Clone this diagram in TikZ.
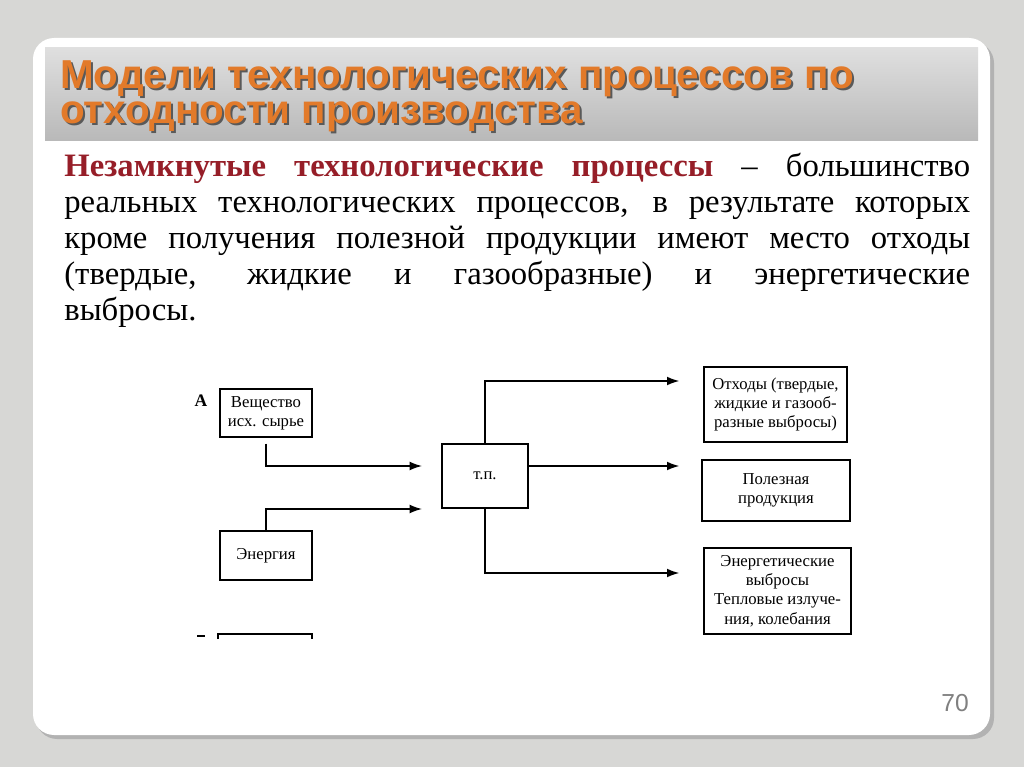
\documentclass[tikz,border=0pt]{standalone}
\usepackage{fontspec}
\setmainfont{Liberation Serif}
\newfontfamily\titlefont{Liberation Sans}
\usetikzlibrary{arrows.meta}
\definecolor{slidegray}{RGB}{215,215,213}
\definecolor{titleorange}{RGB}{226,122,42}
\definecolor{headred}{RGB}{150,30,40}
\begin{document}
\begin{tikzpicture}[x=0.02cm,y=-0.02cm,
  blockbox/.style={draw,thick,rectangle,inner sep=0pt,align=center,font=\fontsize{9.5}{11}\selectfont},
  flow/.style={-{Latex[length=7pt,width=5pt]},thick}]
\fill[slidegray] (0,0) rectangle (1024,767);
\fill[gray!60,rounded corners=12pt] (36,42) rectangle (994,739);
\fill[white,rounded corners=12pt] (33,38) rectangle (990,735);
\shade[top color=gray!25,bottom color=gray!55] (45,48) rectangle (978,140);
% title
\node[anchor=north west,align=left,text=gray!70!black,font=\titlefont\bfseries\fontsize{23}{20}\selectfont] at (56,56) {Модели технологических процессов по\\отходности производства};
\node[anchor=north west,align=left,text=titleorange,font=\titlefont\bfseries\fontsize{23}{20}\selectfont] (title) at (54,54) {Модели технологических процессов по\\отходности производства};
% body text
\node[anchor=north west,text width=18.12cm,align=justify,inner sep=0pt,font=\fontsize{18.6}{20.4}\selectfont] (body) at (64,153)
{\textcolor{headred}{\textbf{Незамкнутые технологические процессы}} -- большинство реальных технологических процессов, в результате которых кроме получения полезной продукции имеют место отходы (твердые, жидкие и газообразные) и энергетические\linebreak выбросы.};
% diagram
\node[font=\bfseries\fontsize{10}{12}\selectfont] (labA) at (201,401) {А};
\node[blockbox,minimum width=92*0.02cm,minimum height=48*0.02cm] (raw) at (266,413) {Вещество\\исх. сырье};
\node[blockbox,minimum width=92*0.02cm,minimum height=49*0.02cm] (energy) at (266,555.5) {Энергия};
\node[blockbox,minimum width=86*0.02cm,minimum height=64*0.02cm] (tp) at (485,476) {т.п.};
\node[blockbox,minimum width=143*0.02cm,minimum height=75*0.02cm] (waste) at (775.5,404.5) {Отходы (твердые,\\жидкие и газооб-\\разные выбросы)};
\node[blockbox,minimum width=148*0.02cm,minimum height=61*0.02cm] (product) at (776,490.5) {Полезная\\продукция};
\node[blockbox,minimum width=147*0.02cm,minimum height=86*0.02cm] (emission) at (777.5,591) {Энергетические\\выбросы\\Тепловые излуче-\\ния, колебания};
\draw[thick] (218,639) -- (218,634) -- (312,634) -- (312,639);
\draw[thick] (197,636) -- (205,636);
\coordinate (inA) at (422,466);
\coordinate (inB) at (422,509);
\draw[flow] (raw.south) ++(0,6) |- (inA);
\draw[flow] (energy.north) |- (inB);
\draw[flow] (tp.north) |- ([xshift=-24*0.02cm]waste.west |- 0,381);
\draw[flow] (tp.east |- 0,466) -- ([xshift=-22*0.02cm]product.west |- 0,466);
\draw[flow] (tp.south) |- ([xshift=-24*0.02cm]emission.west |- 0,573);
% page number
\node[text=gray,font=\titlefont\fontsize{14}{16}\selectfont] (page) at (955,703) {70};
\end{tikzpicture}
\end{document}
